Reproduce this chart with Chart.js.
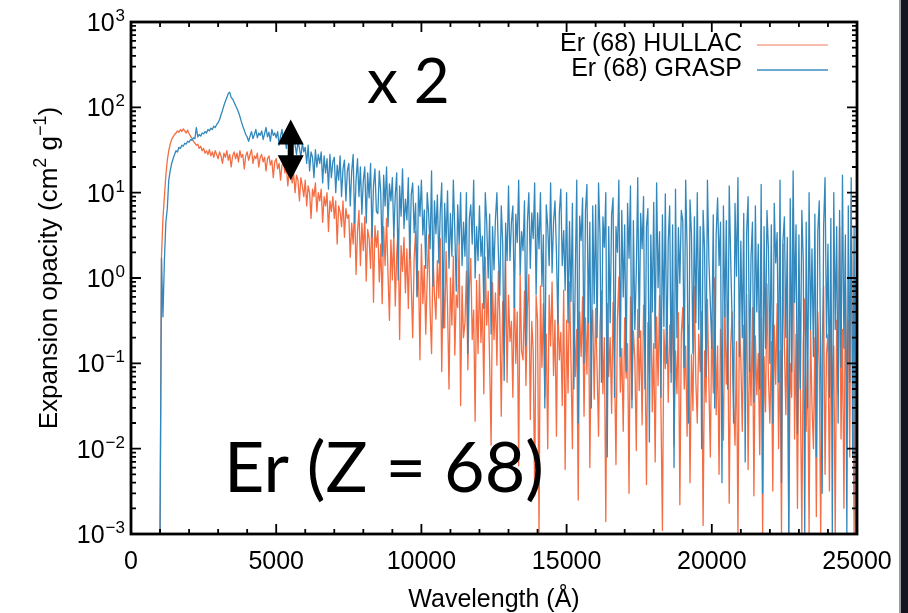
<!DOCTYPE html>
<html><head><meta charset="utf-8">
<script src="https://cdn.jsdelivr.net/npm/chart.js@4.4.1/dist/chart.umd.min.js"></script>
<style>html,body{margin:0;padding:0;background:#fff;overflow:hidden;} canvas{display:block;}</style>
</head><body>
<canvas id="c" width="908" height="613"></canvas>
<script>
// ---- data (wavelength grid: samples every 50 Å from 1000 Å) ----
const lambdaStart = 1000;
const lambdaStep = 50;

const hullac = [
0.001,1.8,5,9,16,24,31,37,42,45,
48,50,53,51,55,52,56,53,50,54,
49,46,43,40,38,36,37,33,35,31,
33,29,31,28,32,27,30,26,31,28,
25,30,27,22,29,26,31,24,28,20,
27,30,25,29,23,31,26,28,19,27,
30,24,28,32,22,27,25,29,20,26,
28,23,26,18,25,27,21,24,15,23,
25,19,22,14,21,23,17,20,12,19,
18,13,17,10,16,14,8,15,12,9,
14,7,12,10,5,11,9,13,6,10,
8,11,4.5,9,7,10,3.5,8,6,9,
5,8,2.5,7,6,4,8,3,6.5,5,
5.5,1.75,4.4,2.5,7,1.1,3.5,6.2,1.4,4.4,
2.1,5.2,0.92,3.7,2.9,1.3,5.8,0.52,4.1,2.3,
3.6,0.9,2.5,0.5,4,1.4,5,1.1,0.32,2.8,
0.95,3.4,0.47,1.9,3.8,0.19,2.4,1.2,3,0.67,
2.2,0.44,3.1,0.87,0.2,1.7,3.5,0.62,1.2,0.11,
2.5,0.5,1.4,0.22,1,3.2,0.4,0.13,1.8,0.63,
0.33,1.6,0.58,2.9,0.08,1.03,0.26,2.05,0.46,0.05,
1,0.28,1.8,0.125,0.63,0.45,2.5,0.032,0.8,0.2,
0.3,1.2,0.084,0.75,1.7,0.19,0.42,0.021,0.94,0.13,
1.1,0.175,0.5,0.044,1.75,0.28,0.7,0.1,0.011,0.88,
0.19,0.67,0.095,1.2,0.34,0.024,0.53,0.13,1.7,0.06,
0.63,0.18,0.31,0.04,0.89,0.1,0.4,0.0063,1.1,0.14,
0.11,0.7,0.055,0.44,1.1,0.022,0.31,0.14,0.0028,0.62,
0.32,0.001,0.8,0.09,0.5,0.04,0.22,0.01,0.63,0.16,
0.9,0.072,0.32,0.014,0.5,0.11,0.23,0.032,0.72,0.0057,
0.32,0.045,0.9,0.11,0.01,0.5,0.07,0.25,0.0025,0.4,
0.12,0.6,0.024,0.34,0.075,0.95,0.006,0.19,0.42,0.038,
0.44,0.088,0.014,0.28,0.7,0.044,0.2,0.0014,0.5,0.07,
0.2,0.026,0.52,0.1,0.0065,0.33,1.03,0.046,0.15,0.016,
0.34,0.067,0.17,0.003,0.6,0.038,0.24,0.11,0.0095,0.43,
0.048,0.24,0.019,0.48,0.15,0.0038,0.3,0.076,0.85,0.027,
0.17,0.007,0.35,0.055,0.62,0.028,0.0011,0.25,0.087,0.44,
0.035,0.28,0.078,0.7,0.011,0.14,0.044,0.39,0.0022,0.22,
0.45,0.05,0.16,0.014,0.28,0.004,0.126,0.028,0.8,0.063,
0.02,0.22,0.08,0.4,0.00126,0.14,0.035,0.56,0.056,0.008,
0.32,0.045,1,0.025,0.16,0.005,0.25,0.089,0.0126,0.5,
0.057,0.25,0.0023,0.16,0.4,0.036,0.011,0.18,0.001,0.32,
0.11,0.016,0.28,0.057,0.64,0.0057,0.18,0.032,0.45,0.0028,
0.21,0.043,0.13,0.0085,0.34,0.001,0.12,0.027,0.85,0.068,
0.02,0.18,0.0032,0.28,0.057,0.5,0.01,0.14,0.001,2.5,
0.16,0.025,0.4,0.001,0.1,0.04,6.4,0.013,0.22,0.002,
0.32,0.05,0.001,0.18,0.57,0.016,0.11,0.001,0.25,0.032,
0.01,0.2,0.0016,0.4,0.09,0.001,0.16,0.8,0.005,0.13,
0.22,0.0032,0.45,0.04,0.16,0.001,0.32,0.045,4,0.013,
0.25,0.002,0.8,0.05,0.32,0.008,8,0.16,0.001,1,
0.5
];

const grasp = [
0.001,1.7,0.35,1.6,4.5,6.5,14,18,22,25,
28,31,30,34,33,36,35,38,37,40,
39,42,41,44,43,58,45,48,46,50,
49,52,50,55,53,57,55,60,58,63,
66,72,82,92,105,118,130,145,150,130,
125,115,105,97,88,78,68,60,54,48,
45,40,46,52,43,48,55,44,50,47,
53,42,49,58,45,51,40,55,47,50,
44,52,36,46,55,38,45,33,48,40,
42,32,48,36,28,40,33,26,38,30,
34,22,36,18,30,26,15,32,20,28,
22,30,13,27,17,25,11,28,15,23,
26,10,21,14,27,9,19,24,8,18,
22,7,18,28,4.4,14,25,9,20,5.6,
14,20,4.4,17,8.7,22,3,12,19,6,
5.7,18,10,1.8,16,7,20,4,12.7,8,
15,3,9.4,17,0.95,12,5.3,19,3.8,8.4,
4.8,15,1.7,9.5,13,3.4,7.5,0.6,12,5.3,
14,3.2,6.3,1.3,10,5.6,2.2,18,0.8,8,
3.3,9.4,1.5,6,13,0.26,7.5,2.6,10.5,1.3,
5.7,1.8,14,3.6,0.7,7.2,2.5,10,1.4,4.5,
1.8,10,0.13,5,7.2,2.5,14,1,4,1.6,
7,1.8,3.1,0.44,10,4.4,1,5.6,0.22,4,
1.25,5,10,2,0.63,7,2.5,0.063,4.4,1.6,
12,1.6,4.5,7,0.45,5.6,2.6,14,1.1,3.5,
2.1,8,0.16,4.5,10,1.3,5.8,2.9,13,0.64,
5.8,2.2,10,0.8,3.2,0.03,7.2,4,1.4,13,
1.15,4.5,8,2,0.29,5.8,11,1.4,3.6,0.72,
10,0.3,4.6,0.53,7.5,0.05,1.17,14,0.02,5.3,
2.75,8.7,0.1,6.2,12.5,0.3,4.5,0.03,7,0.5,
7.2,0.2,13,3.2,0.06,5.2,2.3,10,0.008,4,
0.3,5.5,8.7,0.04,4,2,14,0.12,6.2,0.6,
4.2,0.08,7.5,1.7,12,0.03,4.7,0.25,1.2,15,
0.2,5.7,2.2,9,0.05,4,6.5,0.012,3.2,0.4,
7.7,0.15,13,0.77,3.5,0.04,5.5,0.27,9.7,0.1,
2.7,7,0.06,4.2,0.006,11,0.2,3.9,0.87,6.2,
4.7,0.09,14,2.1,0.02,8.2,3.2,0.13,5.2,0.3,
10,0.25,4,0.01,6.2,2.2,0.07,14,1.6,0.5,
0.15,5.5,0.03,3.2,8.7,1.4,4.5,0.004,7,0.35,
4.7,0.05,12,1.7,0.3,0.02,7.5,1.05,15,0.12,
2.7,0.2,5.7,0.007,3.5,9,0.08,1.75,4.5,0.035,
7,0.4,2.5,0.05,12.5,0.003,4,0.15,6.2,2.2,
0.1,4.2,0.02,7.5,1.5,3.4,0.06,14,0.004,2.7,
5.2,0.2,3,0.001,8.5,0.08,18,0.52,4.2,0.015,
3.2,0.05,6.2,1.6,0.001,4.5,0.03,10,0.25,2.2,
0.12,5.6,0.008,3.5,8,0.07,0.003,4,15,0.2,
2.5,0.04,5,0.001,10,0.25,4,0.02,6.2,0.09,
16,0.15,3.2,0.001,7,0.06,15,0.008,4,0.001,
2.5
];

const xTickValues = [0, 5000, 10000, 15000, 20000, 25000];
const xTickLabels = ['0', '5000', '10000', '15000', '20000', '25000'];
const yTickExponents = [-3, -2, -1, 0, 1, 2, 3];
const seriesNames = ['Er (68) HULLAC', 'Er (68) GRASP'];
const seriesColors = ['#f46d43', '#3288bd'];
const legendLineColors = ['#f7a590', '#3d8cc2'];
const arrowLambda = 5500, arrowTopValue = 72, arrowBottomValue = 14;

const SANS = "'Liberation Sans', Arial, Helvetica, sans-serif";
const ANNO = "Lato, 'Open Sans', sans-serif";

function toPoints(arr){ return arr.map((v,i)=>({x: lambdaStart + i*lambdaStep, y: v})); }

const gnuplotFrame = {
  id: 'gnuplotFrame',
  beforeDraw(chart){
    const ctx = chart.ctx;
    ctx.save();
    ctx.fillStyle = '#ffffff';
    ctx.fillRect(0,0,chart.width,chart.height);
    ctx.restore();
  },
  afterDatasetsDraw(chart){
    const ctx = chart.ctx, a = chart.chartArea;
    const xs = chart.scales.x, ys = chart.scales.y;
    ctx.save();
    ctx.strokeStyle = '#000'; ctx.fillStyle = '#000';
    // ticks (inward, gnuplot style)
    ctx.lineWidth = 1.8;
    ctx.beginPath();
    for (let v = 0; v <= 25000; v += 1000) {
      const px = xs.getPixelForValue(v);
      const len = (v % 5000 === 0) ? 10 : 5;
      ctx.moveTo(px, a.bottom); ctx.lineTo(px, a.bottom - len);
      ctx.moveTo(px, a.top); ctx.lineTo(px, a.top + len);
    }
    for (let e = -3; e <= 3; e++) {
      const py = ys.getPixelForValue(Math.pow(10, e));
      ctx.moveTo(a.left, py); ctx.lineTo(a.left + 10, py);
      ctx.moveTo(a.right, py); ctx.lineTo(a.right - 10, py);
      if (e < 3) {
        for (let m = 2; m <= 9; m++) {
          const pm = ys.getPixelForValue(m * Math.pow(10, e));
          ctx.moveTo(a.left, pm); ctx.lineTo(a.left + 5, pm);
          ctx.moveTo(a.right, pm); ctx.lineTo(a.right - 5, pm);
        }
      }
    }
    ctx.stroke();
    // frame
    ctx.lineWidth = 2.8;
    ctx.strokeRect(a.left, a.top, a.right - a.left, a.bottom - a.top);

    // x tick labels
    ctx.font = '25px ' + SANS;
    ctx.textAlign = 'center'; ctx.textBaseline = 'alphabetic';
    xTickValues.forEach((v,i)=>{
      ctx.fillText(xTickLabels[i], xs.getPixelForValue(v), 569);
    });
    // x title
    ctx.fillText('Wavelength (Å)', (a.left + a.right)/2, 607);

    // y tick labels 10^n
    yTickExponents.forEach(e=>{
      const py = ys.getPixelForValue(Math.pow(10, e));
      const sup = (e < 0 ? '\u2212' : '') + Math.abs(e);
      ctx.font = '17px ' + SANS;
      const sw = ctx.measureText(sup).width;
      ctx.font = '25px ' + SANS;
      const bw = ctx.measureText('10').width;
      const x0 = 124 - sw - bw;
      ctx.textAlign = 'left';
      ctx.fillText('10', x0, py + 9);
      ctx.font = '17px ' + SANS;
      ctx.fillText(sup, x0 + bw + 1, py - 1);
    });

    // y title (rotated, with superscripts)
    const parts = [['Expansion opacity (cm', false], ['2', true], [' g', false], ['\u22121', true], [')', false]];
    let total = 0;
    parts.forEach(p=>{ ctx.font = (p[1] ? '18px ' : '26px ') + SANS; total += ctx.measureText(p[0]).width; });
    ctx.save();
    ctx.translate(57, (a.top + a.bottom)/2 - 10);
    ctx.rotate(-Math.PI/2);
    let cx = -total/2;
    ctx.textAlign = 'left';
    parts.forEach(p=>{
      ctx.font = (p[1] ? '18px ' : '26px ') + SANS;
      ctx.fillText(p[0], cx, p[1] ? -11 : 0);
      cx += ctx.measureText(p[0]).width;
    });
    ctx.restore();

    // legend
    ctx.font = '25px ' + SANS;
    ctx.textAlign = 'right';
    seriesNames.forEach((name,i)=>{
      const yb = 51 + i*25;
      ctx.fillStyle = '#000';
      ctx.fillText(name, 742, yb);
      ctx.strokeStyle = legendLineColors[i];
      ctx.lineWidth = 1.6;
      ctx.beginPath(); ctx.moveTo(757, yb - 6); ctx.lineTo(828, yb - 6); ctx.stroke();
    });

    // annotations
    ctx.fillStyle = '#000';
    ctx.textAlign = 'left';
    ctx.font = '62px ' + ANNO;
    ctx.fillText('x 2', 367, 103);
    ctx.font = '70px ' + ANNO;
    ctx.fillText('Er (Z = 68)', 224, 492);

    // double arrow
    const ax = xs.getPixelForValue(arrowLambda);
    const yT = ys.getPixelForValue(arrowTopValue);
    const yB = ys.getPixelForValue(arrowBottomValue);
    const hl = 25, hw = 13;
    ctx.beginPath();
    ctx.moveTo(ax, yT); ctx.lineTo(ax + hw, yT + hl); ctx.lineTo(ax - hw, yT + hl); ctx.closePath();
    ctx.moveTo(ax, yB); ctx.lineTo(ax + hw, yB - hl); ctx.lineTo(ax - hw, yB - hl); ctx.closePath();
    ctx.fill();
    ctx.fillRect(ax - 3, yT + hl - 1, 6, (yB - hl) - (yT + hl) + 2);

    // dark strip at right edge
    ctx.fillStyle = '#9a9aa6';
    ctx.fillRect(899, 0, 2, chart.height);
    ctx.fillStyle = '#15151f';
    ctx.fillRect(901, 0, chart.width - 901, chart.height);
    ctx.restore();
  }
};

new Chart(document.getElementById('c'), {
  type: 'line',
  data: {
    datasets: [
      { label: seriesNames[0], data: toPoints(hullac), borderColor: seriesColors[0], borderWidth: 1.3,
        pointRadius: 0, tension: 0, fill: false, borderJoinStyle: 'round', order: 2 },
      { label: seriesNames[1], data: toPoints(grasp), borderColor: seriesColors[1], borderWidth: 1.3,
        pointRadius: 0, tension: 0, fill: false, borderJoinStyle: 'round', order: 1 }
    ]
  },
  options: {
    responsive: false, devicePixelRatio: 1, animation: false,
    layout: { padding: { left: 131, right: 51, top: 22, bottom: 79 } },
    plugins: { legend: { display: false }, tooltip: { enabled: false } },
    scales: {
      x: { type: 'linear', min: 0, max: 25000, display: false },
      y: { type: 'logarithmic', min: 0.001, max: 1000, display: false }
    }
  },
  plugins: [gnuplotFrame]
});
</script>
</body></html>
